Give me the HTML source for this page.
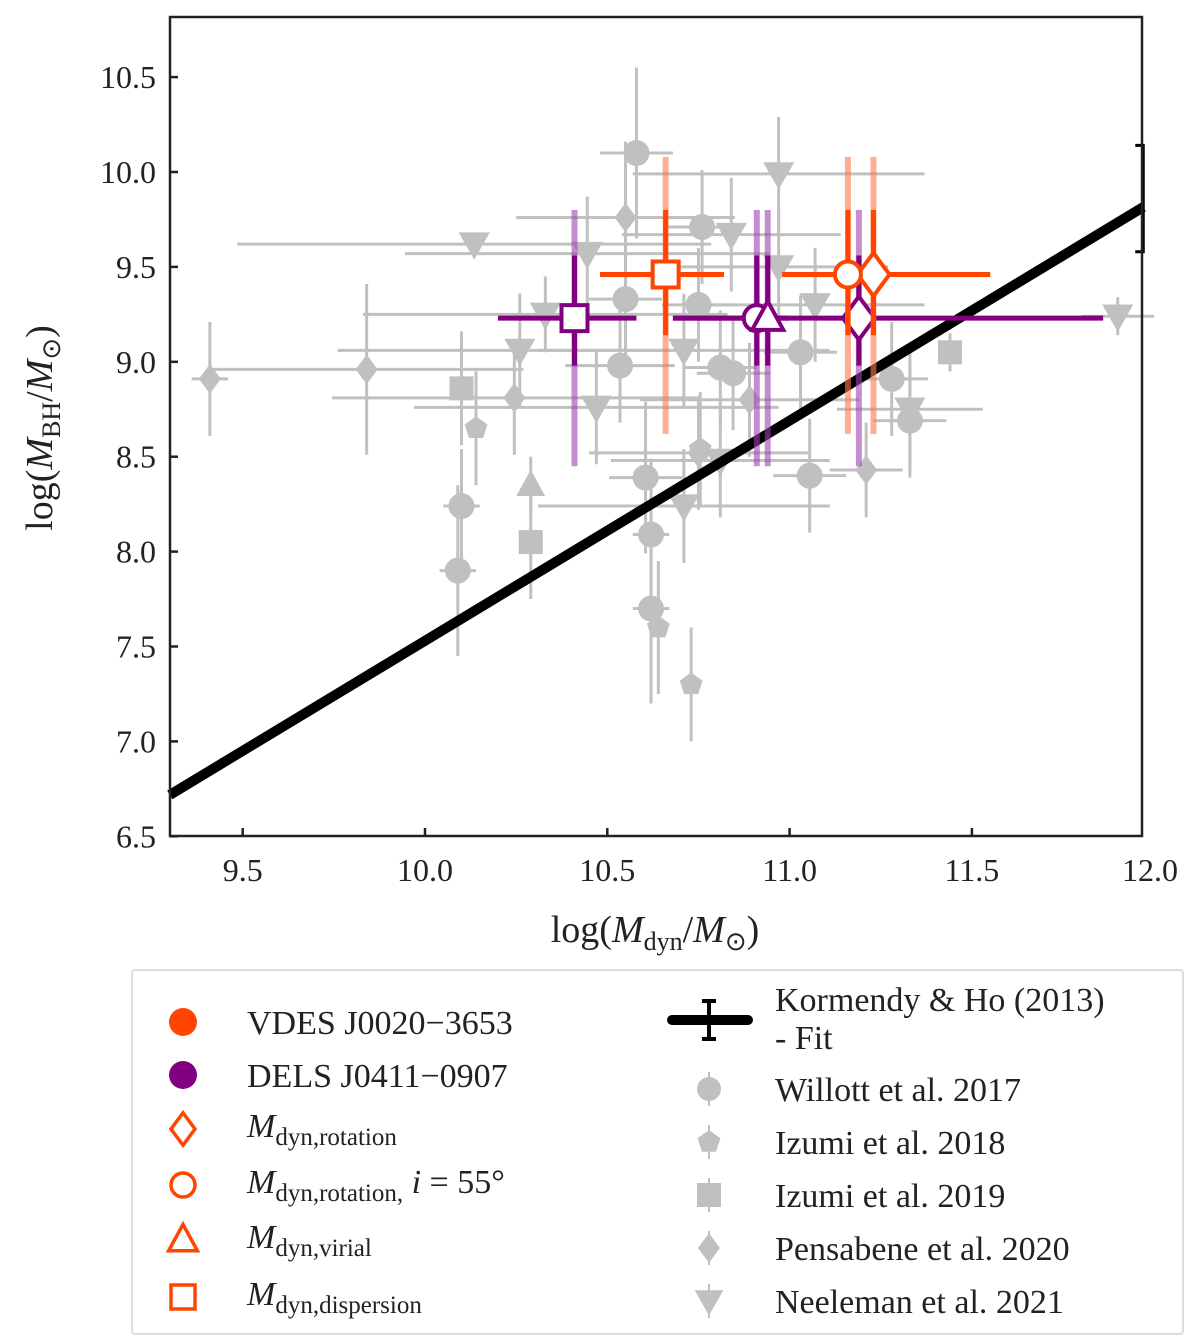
<!DOCTYPE html>
<html><head><meta charset="utf-8"><style>
html,body{margin:0;padding:0;background:#fff;}
svg{display:block;font-family:"Liberation Serif",serif;}
</style></head><body>
<svg id="c" width="1200" height="1342" viewBox="0 0 1200 1342" xmlns="http://www.w3.org/2000/svg">
<g id="grey"></g>
<g id="fit"></g>
<g id="ours"></g>
<rect x="170" y="17" width="972" height="819" fill="none" stroke="#222" stroke-width="2.5"/>
<g id="axes"></g>
<text x="655" y="942" font-size="38" text-anchor="middle" fill="#222">log(<tspan font-style="italic">M</tspan><tspan font-size="26" dy="8">dyn</tspan><tspan dy="-8">/</tspan><tspan font-style="italic">M</tspan><tspan font-size="26" dy="8">⊙</tspan><tspan dy="-8">)</tspan></text>
<text transform="translate(52,428) rotate(-90)" font-size="38" text-anchor="middle" fill="#222">log(<tspan font-style="italic">M</tspan><tspan font-size="26" dy="8">BH</tspan><tspan dy="-8">/</tspan><tspan font-style="italic">M</tspan><tspan font-size="26" dy="8">⊙</tspan><tspan dy="-8">)</tspan></text>
<g id="legend">
<rect x="132" y="970" width="1051" height="364" fill="#fff" stroke="#ddd" stroke-width="2" rx="3"/>
</g>
</svg>
<script>
// ---- data ----
const xTicks=[9.5,10.0,10.5,11.0,11.5,12.0];
const yTicks=[6.5,7.0,7.5,8.0,8.5,9.0,9.5,10.0,10.5];
// Willott 2017 circles: x, y, xerr, yerr
const willX=[10.58,10.76,10.535,10.81,10.845,11.03,11.28,11.33,11.055,10.605,10.62,10.62,10.10,10.09,10.75,10.55];
const willY=[10.10,9.71,8.98,8.97,8.94,9.05,8.91,8.69,8.40,8.39,8.09,7.70,8.24,7.90,9.30,9.33];
const willXe=[0.1,0.1,0.15,0.1,0.1,0.1,0.1,0.1,0.1,0.1,0.05,0.05,0.05,0.05,0.1,0.1];
const willYe=[0.45,0.3,0.3,0.3,0.3,0.3,0.3,0.3,0.3,0.4,0.4,0.5,0.3,0.45,0.3,0.3];
const izu18X=[10.14,10.64,10.73,10.755];
const izu18Y=[8.65,7.60,7.30,8.54];
const izu18Ye=[0.3,0.35,0.3,0.3];
const izu19X=[10.10,10.29,11.44];
const izu19Y=[8.86,8.05,9.05];
const izu19Ye=[0.3,0.3,0.1];
const penX=[9.41,9.84,10.245,10.55,10.89,11.21,10.75];
const penY=[8.91,8.96,8.81,9.76,8.80,8.43,8.52];
const penXe=[0.05,0.43,0.5,0.3,0.3,0.1,0.3];
const penYe=[0.3,0.45,0.3,0.4,0.3,0.25,0.3];
const neeX=[10.135,10.445,10.26,10.47,10.71,10.71,10.97,10.97,11.07,11.33,11.90,10.84,10.81,10.33];
const neeY=[9.62,9.57,9.06,8.76,9.06,8.24,9.99,9.50,9.30,8.75,9.24,9.67,8.48,9.25];
const neeXe=[0.65,0.5,0.5,0.5,0.4,0.4,0.4,0.3,0.3,0.2,0.1,0.3,0.3,0.5];
const neeYe=[0.05,0.3,0.3,0.3,0.3,0.3,0.3,0.3,0.3,0.3,0.1,0.3,0.3,0.2];
const upX=[10.29];const upY=[8.35];
// our quasars
const vdesX=[11.23,11.16,10.66];const vdesM=['diamond','circle','square'];
const vdesY=9.46;const vdesXlo=[10.98,10.98,10.48];const vdesXhi=[11.55,11.55,10.82];
const delsX=[11.19,10.91,10.94,10.41];const delsM=['diamond','circle','triangle','square'];
const delsY=9.23;const delsXlo=[11.0,10.68,10.68,10.2];const delsXhi=[11.86,11.0,11.0,10.58];
const vdesYerr=[0.32,0.34];const vdesYerrSys=[0.84,0.62];
const delsYerr=[0.25,0.33];const delsYerrSys=[0.78,0.57];
// fit
const fitA=8.69, fitB=1.16, fitXmin=9.3, fitXmax=11.97, fitErrLo=9.58, fitErrHi=10.14;
// ---- axis functions ----
const X=v=>425+(v-10)*364.6;
const Y=v=>172-(v-10)*189.8;
const NS='http://www.w3.org/2000/svg';
function mk(tag,attrs,parent){const e=document.createElementNS(NS,tag);for(const k in attrs)e.setAttribute(k,attrs[k]);parent.appendChild(e);return e;}
const axes=document.getElementById('axes');
xTicks.forEach(t=>{const x=X(t);
 if(x<1142){const l=mk('line',{x1:x,x2:x,y1:836,y2:828,stroke:'#222','stroke-width':2.5},axes);
 }
 const tx=mk('text',{x:Math.min(x,1150),y:881,'font-size':32,'text-anchor':'middle',fill:'#222'},axes);tx.textContent=t.toFixed(1);
 });
yTicks.forEach(t=>{const y=Y(t);
 const l=mk('line',{x1:170,x2:178,y1:y,y2:y,stroke:'#222','stroke-width':2.5},axes);
 
 const tx=mk('text',{x:156,y:y+11,'font-size':32,'text-anchor':'end',fill:'#222'},axes);tx.textContent=t.toFixed(1);
 });
function marker(g,type,x,y,s,fill,stroke,sw){
 let e;
 if(type==='circle')e=mk('circle',{cx:x,cy:y,r:s},g);
 else if(type==='square')e=mk('rect',{x:x-s,y:y-s,width:2*s,height:2*s},g);
 else if(type==='diamond')e=mk('polygon',{points:`${x},${y-s*1.35} ${x+s},${y} ${x},${y+s*1.35} ${x-s},${y}`},g);
 else if(type==='tridown')e=mk('polygon',{points:`${x-s*1.2},${y-s*0.9} ${x+s*1.2},${y-s*0.9} ${x},${y+s*1.2}`},g);
 else if(type==='triangle')e=mk('polygon',{points:`${x-s*1.2},${y+s*0.9} ${x+s*1.2},${y+s*0.9} ${x},${y-s*1.3}`},g);
 else if(type==='pentagon'){let p=[];for(let i=0;i<5;i++){const a=-Math.PI/2+i*2*Math.PI/5;p.push((x+s*Math.cos(a))+','+(y+s*Math.sin(a)));}e=mk('polygon',{points:p.join(' ')},g);}
 e.setAttribute('fill',fill);e.setAttribute('stroke',stroke);e.setAttribute('stroke-width',sw);
 return e;}
const grey=document.getElementById('grey');const G='#c0c0c0';
function greySet(xs,ys,xe,ye,type,s,name){xs.forEach((v,i)=>{const x=X(v),y=Y(ys[i]);
 const a=(xe?xe[i]:0),b=(ye?ye[i]:0);
 if(a){const l=mk('line',{x1:X(v-a),x2:X(v+a),y1:y,y2:y,stroke:G,'stroke-width':3},grey);}
 if(b){const l=mk('line',{x1:x,x2:x,y1:Y(ys[i]-b),y2:Y(ys[i]+b),stroke:G,'stroke-width':3},grey);}
 const m=marker(grey,type,x,y,s,G,'none',0);});}
greySet(willX,willY,willXe,willYe,'circle',13,'willott-2017');
greySet(izu18X,izu18Y,null,izu18Ye,'pentagon',12,'izumi-2018');
greySet(izu19X,izu19Y,null,izu19Ye,'square',12,'izumi-2019');
greySet(penX,penY,penXe,penYe,'diamond',11,'pensabene-2020');
greySet(neeX,neeY,neeXe,neeYe,'tridown',13,'neeleman-2021');
greySet(upX,upY,null,[0.15],'triangle',12,'upper-limit');
// fit
const fit=document.getElementById('fit');
const fl=mk('line',{x1:X(fitXmin),y1:Y(fitA+fitB*(fitXmin-11)),x2:X(fitXmax),y2:Y(fitA+fitB*(fitXmax-11)),stroke:'#000','stroke-width':10},fit);

const fe=mk('path',{d:`M${X(fitXmax)-8},${Y(fitErrHi)} H${X(fitXmax)} V${Y(fitErrLo)} H${X(fitXmax)-8}`,fill:'none',stroke:'#000','stroke-width':3},fit);

// ours
const ours=document.getElementById('ours');
function ourSet(xs,ms,yv,xlo,xhi,ye,yes,col,light,name){
 xs.forEach((v,i)=>{const x=X(v);
  const l1=mk('line',{x1:x,x2:x,y1:Y(yv-yes[0]),y2:Y(yv+yes[1]),stroke:light,'stroke-width':6,opacity:0.6},ours);});
 xs.forEach((v,i)=>{const x=X(v),y=Y(yv);
  const l2=mk('line',{x1:x,x2:x,y1:Y(yv-ye[0]),y2:Y(yv+ye[1]),stroke:col,'stroke-width':5},ours);
  const l3=mk('line',{x1:X(xlo[i]),x2:X(xhi[i]),y1:y,y2:y,stroke:col,'stroke-width':5},ours);});
 xs.forEach((v,i)=>{const m=marker(ours,ms[i],X(v),Y(yv),ms[i]==='diamond'?16:13,'#fff',col,4);});}
ourSet(delsX,delsM,delsY,delsXlo,delsXhi,delsYerr,delsYerrSys,'#800080','#a040b0','dels-j0411');
ourSet(vdesX,vdesM,vdesY,vdesXlo,vdesXhi,vdesYerr,vdesYerrSys,'#ff4500','#ff7a4a','vdes-j0020');
// legend
const lg=document.getElementById('legend');const OR='#ff4500';
function ltxt(x,y,html,name){const t=mk('text',{x:x,y:y,'font-size':34,fill:'#222'},lg);t.innerHTML=html;}
let c;
c=mk('circle',{cx:183,cy:1022,r:14,fill:OR},lg);
ltxt(247,1034,'VDES J0020−3653','legend-vdes');
c=mk('circle',{cx:183,cy:1075,r:14,fill:'#800080'},lg);
ltxt(247,1087,'DELS J0411−0907','legend-dels');
const sub=(s,extra)=>`<tspan font-style="italic">M</tspan><tspan font-size="25" dy="8">${s}</tspan>${extra||''}`;
[['diamond',1129,'dyn,rotation',''],['circle',1185,'dyn,rotation,','<tspan dy="-8" font-style="italic"> i</tspan><tspan> = 55°</tspan>'],['triangle',1240,'dyn,virial',''],['square',1297,'dyn,dispersion','']].forEach((r,i)=>{
 const m=marker(lg,r[0],183,r[1],12,'#fff',OR,3.5);
 ltxt(247,r[1]+8,sub(r[2],r[3]),'legend-'+r[0]);});
// fit legend
let e=mk('line',{x1:672,x2:748,y1:1020,y2:1020,stroke:'#000','stroke-width':10,'stroke-linecap':'round'},lg);
e=mk('path',{d:'M702,1001 H716 M709,1001 V1039 M702,1039 H716',stroke:'#000','stroke-width':4,fill:'none'},lg);
ltxt(775,1011,'Kormendy &amp; Ho (2013)','legend-fit');ltxt(775,1049,'- Fit','legend-fit-2');
[['circle',1089,'Willott et al. 2017'],['pentagon',1142,'Izumi et al. 2018'],['square',1195,'Izumi et al. 2019'],['diamond',1248,'Pensabene et al. 2020'],['tridown',1301,'Neeleman et al. 2021']].forEach(r=>{
 const l=mk('line',{x1:709,x2:709,y1:r[1]-17,y2:r[1]+17,stroke:G,'stroke-width':2},lg);
 const m=marker(lg,r[0],709,r[1],r[0]==='diamond'?11:12,G,'none',0);
 ltxt(775,r[1]+12,r[2],'legend-'+r[2].split(' ')[0].toLowerCase());});
</script>
</body></html>
